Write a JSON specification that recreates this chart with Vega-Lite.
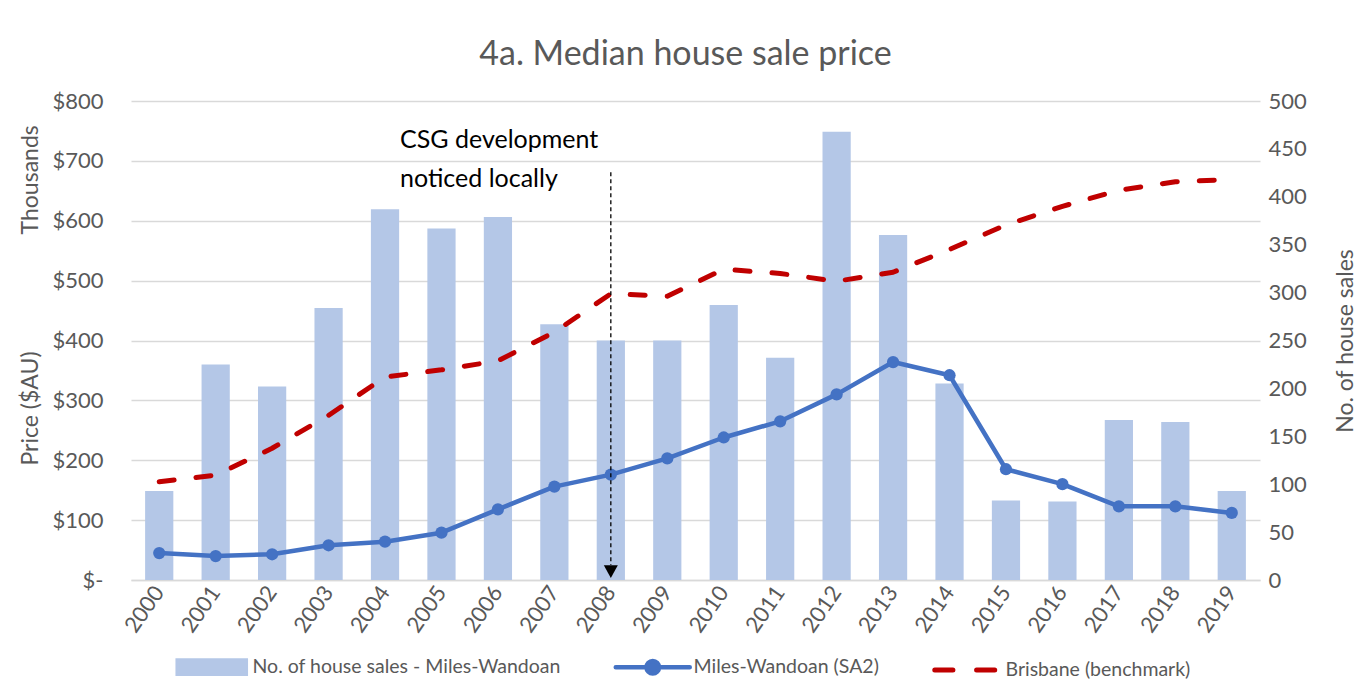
{
  "$schema": "https://vega.github.io/schema/vega-lite/v6.json",
  "width": 1129,
  "height": 479,
  "autosize": {"type": "none"},
  "padding": {"left": 131, "top": 101, "right": 111, "bottom": 117},
  "background": "white",
  "title": {"text": "4a. Median house sale price", "fontSize": 34, "color": "#595959", "fontWeight": "normal", "anchor": "middle", "offset": 18, "dx": -10},
  "data": {"values": [
    {"year": "2000", "sales": 93, "miles": 45, "brisbane": 164},
    {"year": "2001", "sales": 225, "miles": 40, "brisbane": 175},
    {"year": "2002", "sales": 202, "miles": 43, "brisbane": 220},
    {"year": "2003", "sales": 284, "miles": 58, "brisbane": 275},
    {"year": "2004", "sales": 387, "miles": 64, "brisbane": 339},
    {"year": "2005", "sales": 367, "miles": 79, "brisbane": 351},
    {"year": "2006", "sales": 379, "miles": 118, "brisbane": 366},
    {"year": "2007", "sales": 267, "miles": 156, "brisbane": 414},
    {"year": "2008", "sales": 250, "miles": 176, "brisbane": 478},
    {"year": "2009", "sales": 250, "miles": 203, "brisbane": 474},
    {"year": "2010", "sales": 287, "miles": 238, "brisbane": 519},
    {"year": "2011", "sales": 232, "miles": 265, "brisbane": 512},
    {"year": "2012", "sales": 468, "miles": 310, "brisbane": 499},
    {"year": "2013", "sales": 360, "miles": 364, "brisbane": 514},
    {"year": "2014", "sales": 205, "miles": 342, "brisbane": 552},
    {"year": "2015", "sales": 83, "miles": 185, "brisbane": 593},
    {"year": "2016", "sales": 82, "miles": 160, "brisbane": 624},
    {"year": "2017", "sales": 167, "miles": 123, "brisbane": 651},
    {"year": "2018", "sales": 165, "miles": 123, "brisbane": 665},
    {"year": "2019", "sales": 93, "miles": 112, "brisbane": 669}
  ]},
  "encoding": {
    "x": {"field": "year", "type": "ordinal", "scale": {"paddingInner": 0.5, "paddingOuter": 0.25},
      "axis": {"title": null, "labelAngle": -55, "labelPadding": 8, "ticks": false, "domain": true, "domainColor": "#D9D9D9", "domainWidth": 1.5, "grid": false}}
  },
  "layer": [
    {
      "mark": {"type": "bar", "opacity": 1},
      "encoding": {
        "y": {"field": "sales", "type": "quantitative", "scale": {"domain": [0, 500], "nice": false},
          "axis": {"orient": "right", "values": [0, 50, 100, 150, 200, 250, 300, 350, 400, 450, 500], "grid": false, "domain": false, "ticks": false, "labelPadding": 8,
            "title": "No. of house sales", "titleAngle": -90, "titleAlign": "center", "titleBaseline": "alphabetic", "titleX": 92, "titleY": 239.5}},
        "color": {"datum": "No. of house sales - Miles-Wandoan", "type": "nominal",
          "scale": {"domain": ["No. of house sales - Miles-Wandoan", "Miles-Wandoan (SA2)", "Brisbane (benchmark)"], "range": ["#B4C7E7", "#4472C4", "#C00000"]},
          "legend": {"orient": "none", "legendX": 71, "legendY": 556, "direction": "horizontal", "title": null, "labelFontSize": 19.5, "labelColor": "#595959", "labelLimit": 0, "symbolSize": 5476, "labelOffset": 31, "columnPadding": 45,
            "encode": {"symbols": {"update": {
              "shape": {"signal": "datum.value === 'No. of house sales - Miles-Wandoan' ? 'M-0.92,-0.18H0.92V0.18H-0.92Z' : datum.value === 'Miles-Wandoan (SA2)' ? 'M-1,0H1M0.17,0A0.17,0.17,0,1,1,-0.17,0A0.17,0.17,0,1,1,0.17,0Z' : 'M-0.81,0H-0.32M0.32,0H0.81'"},
              "fill": {"signal": "datum.value === 'No. of house sales - Miles-Wandoan' ? '#B4C7E7' : datum.value === 'Miles-Wandoan (SA2)' ? '#4472C4' : 'transparent'"},
              "stroke": {"signal": "datum.value === 'No. of house sales - Miles-Wandoan' ? 'transparent' : datum.value === 'Miles-Wandoan (SA2)' ? '#4472C4' : '#C00000'"},
              "strokeWidth": {"signal": "datum.value === 'Brisbane (benchmark)' ? 5 : 4.5"},
              "strokeCap": {"value": "round"},
              "opacity": {"value": 1},
              "fillOpacity": {"value": 1},
              "strokeOpacity": {"value": 1},
              "size": {"value": 5476}
            }}}}
        }
      }
    },
    {
      "layer": [
        {
          "mark": {"type": "line", "strokeWidth": 4.5, "strokeCap": "round", "strokeJoin": "round"},
          "encoding": {
            "y": {"field": "miles", "type": "quantitative", "scale": {"domain": [0, 800], "nice": false},
              "axis": {"orient": "left", "values": [0, 100, 200, 300, 400, 500, 600, 700, 800], "grid": true, "gridColor": "#D9D9D9", "gridWidth": 1.5, "domain": false, "ticks": false, "labelPadding": 28,
                "labelExpr": "datum.value == 0 ? '$-\u00a0\u00a0' : '$' + datum.value",
                "title": "Price ($AU)\u00a0\u00a0\u00a0\u00a0\u00a0\u00a0\u00a0\u00a0\u00a0\u00a0\u00a0\u00a0\u00a0\u00a0\u00a0\u00a0\u00a0\u00a0\u00a0\u00a0Thousands", "titleAngle": -90, "titleAlign": "left", "titleBaseline": "alphabetic", "titleX": -94, "titleY": 364}},
            "color": {"datum": "Miles-Wandoan (SA2)", "type": "nominal",
              "legend": {"orient": "none", "legendX": 71, "legendY": 556, "direction": "horizontal", "title": null, "labelFontSize": 19.5, "labelColor": "#595959", "labelLimit": 0, "symbolSize": 5476, "labelOffset": 31, "columnPadding": 45,
                "encode": {"symbols": {"update": {
                  "shape": {"signal": "datum.value === 'No. of house sales - Miles-Wandoan' ? 'M-0.92,-0.18H0.92V0.18H-0.92Z' : datum.value === 'Miles-Wandoan (SA2)' ? 'M-1,0H1M0.17,0A0.17,0.17,0,1,1,-0.17,0A0.17,0.17,0,1,1,0.17,0Z' : 'M-0.81,0H-0.32M0.32,0H0.81'"},
                  "fill": {"signal": "datum.value === 'No. of house sales - Miles-Wandoan' ? '#B4C7E7' : datum.value === 'Miles-Wandoan (SA2)' ? '#4472C4' : 'transparent'"},
                  "stroke": {"signal": "datum.value === 'No. of house sales - Miles-Wandoan' ? 'transparent' : datum.value === 'Miles-Wandoan (SA2)' ? '#4472C4' : '#C00000'"},
                  "strokeWidth": {"signal": "datum.value === 'Brisbane (benchmark)' ? 5 : 4.5"},
                  "strokeCap": {"value": "round"},
                  "opacity": {"value": 1},
                  "fillOpacity": {"value": 1},
                  "strokeOpacity": {"value": 1},
                  "size": {"value": 5476}
                }}}}}
          }
        },
        {
          "mark": {"type": "point", "filled": true, "size": 150, "opacity": 1},
          "encoding": {
            "y": {"field": "miles", "type": "quantitative"},
            "color": {"datum": "Miles-Wandoan (SA2)", "type": "nominal",
              "legend": {"orient": "none", "legendX": 71, "legendY": 556, "direction": "horizontal", "title": null, "labelFontSize": 19.5, "labelColor": "#595959", "labelLimit": 0, "symbolSize": 5476, "labelOffset": 31, "columnPadding": 45,
                "encode": {"symbols": {"update": {
                  "shape": {"signal": "datum.value === 'No. of house sales - Miles-Wandoan' ? 'M-0.92,-0.18H0.92V0.18H-0.92Z' : datum.value === 'Miles-Wandoan (SA2)' ? 'M-1,0H1M0.17,0A0.17,0.17,0,1,1,-0.17,0A0.17,0.17,0,1,1,0.17,0Z' : 'M-0.81,0H-0.32M0.32,0H0.81'"},
                  "fill": {"signal": "datum.value === 'No. of house sales - Miles-Wandoan' ? '#B4C7E7' : datum.value === 'Miles-Wandoan (SA2)' ? '#4472C4' : 'transparent'"},
                  "stroke": {"signal": "datum.value === 'No. of house sales - Miles-Wandoan' ? 'transparent' : datum.value === 'Miles-Wandoan (SA2)' ? '#4472C4' : '#C00000'"},
                  "strokeWidth": {"signal": "datum.value === 'Brisbane (benchmark)' ? 5 : 4.5"},
                  "strokeCap": {"value": "round"},
                  "opacity": {"value": 1},
                  "fillOpacity": {"value": 1},
                  "strokeOpacity": {"value": 1},
                  "size": {"value": 5476}
                }}}}}
          }
        },
        {
          "mark": {"type": "line", "strokeWidth": 5, "strokeDash": [15, 22], "strokeCap": "round", "strokeJoin": "round"},
          "encoding": {
            "y": {"field": "brisbane", "type": "quantitative"},
            "color": {"datum": "Brisbane (benchmark)", "type": "nominal",
              "legend": {"orient": "none", "legendX": 71, "legendY": 556, "direction": "horizontal", "title": null, "labelFontSize": 19.5, "labelColor": "#595959", "labelLimit": 0, "symbolSize": 5476, "labelOffset": 31, "columnPadding": 45,
                "encode": {"symbols": {"update": {
                  "shape": {"signal": "datum.value === 'No. of house sales - Miles-Wandoan' ? 'M-0.92,-0.18H0.92V0.18H-0.92Z' : datum.value === 'Miles-Wandoan (SA2)' ? 'M-1,0H1M0.17,0A0.17,0.17,0,1,1,-0.17,0A0.17,0.17,0,1,1,0.17,0Z' : 'M-0.81,0H-0.32M0.32,0H0.81'"},
                  "fill": {"signal": "datum.value === 'No. of house sales - Miles-Wandoan' ? '#B4C7E7' : datum.value === 'Miles-Wandoan (SA2)' ? '#4472C4' : 'transparent'"},
                  "stroke": {"signal": "datum.value === 'No. of house sales - Miles-Wandoan' ? 'transparent' : datum.value === 'Miles-Wandoan (SA2)' ? '#4472C4' : '#C00000'"},
                  "strokeWidth": {"signal": "datum.value === 'Brisbane (benchmark)' ? 5 : 4.5"},
                  "strokeCap": {"value": "round"},
                  "opacity": {"value": 1},
                  "fillOpacity": {"value": 1},
                  "strokeOpacity": {"value": 1},
                  "size": {"value": 5476}
                }}}}}
          }
        },
        {
          "data": {"values": [{"event": "CSG development noticed locally"}]},
          "mark": {"type": "rule", "color": "#000000", "strokeWidth": 1.3, "strokeDash": [4, 3]},
          "encoding": {
            "x": {"datum": "2008", "type": "ordinal"},
            "y": {"datum": 681, "type": "quantitative"},
            "y2": {"datum": 25}
          }
        },
        {
          "data": {"values": [{"event": "CSG development noticed locally"}]},
          "mark": {"type": "point", "shape": "M-1,-0.9L1,-0.9L0,0.9Z", "filled": true, "color": "#000000", "size": 196, "opacity": 1},
          "encoding": {
            "x": {"datum": "2008", "type": "ordinal"},
            "y": {"datum": 14, "type": "quantitative"}
          }
        },
        {
          "data": {"values": [{"event": "CSG development noticed locally"}]},
          "mark": {"type": "text", "text": ["CSG development", "noticed locally"], "align": "left", "baseline": "alphabetic", "fontSize": 25, "lineHeight": 39.5, "color": "#000000", "dx": 15},
          "encoding": {
            "x": {"datum": "2004", "type": "ordinal"},
            "y": {"datum": 722, "type": "quantitative"}
          }
        }
      ]
    }
  ],
  "resolve": {"scale": {"y": "independent"}},
  "config": {
    "font": "Lato",
    "view": {"stroke": null},
    "axis": {"labelColor": "#595959", "labelFontSize": 22, "titleColor": "#595959", "titleFontSize": 23, "titleFontWeight": "normal", "labelFont": "Lato", "titleFont": "Lato"},
    "legend": {"labelFont": "Lato", "labelLimit": 0, "labelFontSize": 19.5, "labelColor": "#595959"}
  }
}
